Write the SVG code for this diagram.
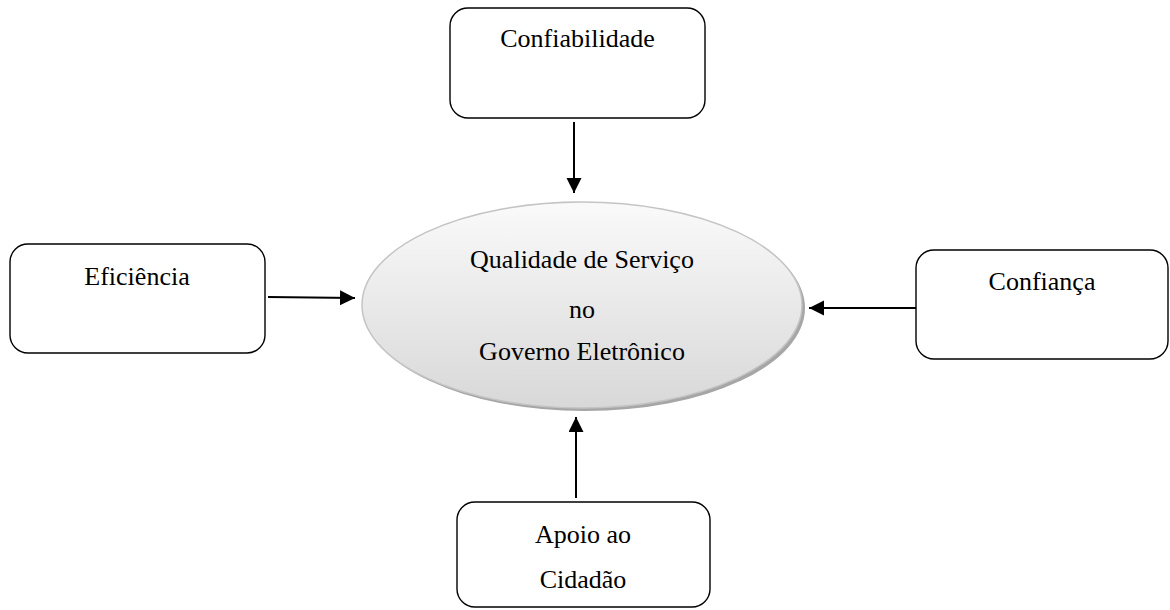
<svg xmlns="http://www.w3.org/2000/svg" width="1170" height="610" viewBox="0 0 1170 610">
<style>
.box{fill:#ffffff;stroke:#000000;stroke-width:1.4}
.lbl{font-family:"Liberation Serif","Times New Roman",serif;font-size:26px;fill:#000000;text-anchor:middle}
.conn{stroke:#000000;stroke-width:2;fill:none}
</style>
<defs>
<marker id="arr" markerUnits="userSpaceOnUse" markerWidth="16" markerHeight="16" refX="15" refY="7.5" orient="auto">
<path d="M0,0 L15,7.5 L0,15 Z" fill="#000000"/>
</marker>
<linearGradient id="ellg" x1="0" y1="0" x2="0" y2="1">
<stop offset="0" stop-color="#fafafa"/>
<stop offset="1" stop-color="#d8d8d8"/>
</linearGradient>
</defs>
<rect width="1170" height="610" fill="#ffffff"/>
<g id="center">
<ellipse cx="585" cy="308" rx="220" ry="103" fill="#a6a6a6"/>
<ellipse cx="582" cy="305" rx="220" ry="103" fill="url(#ellg)" stroke="#c4c4c4" stroke-width="1.5"/>
<text class="lbl" x="582" y="268">Qualidade de Serviço</text>
<text class="lbl" x="582" y="318">no</text>
<text class="lbl" x="582" y="360">Governo Eletrônico</text>
</g>
<g id="confiabilidade">
<rect class="box" x="450" y="8" width="255" height="110" rx="18"/>
<text class="lbl" x="577.5" y="47">Confiabilidade</text>
</g>
<g id="eficiencia">
<rect class="box" x="10" y="244" width="255" height="109" rx="18"/>
<text class="lbl" x="137" y="285">Eficiência</text>
</g>
<g id="confianca">
<rect class="box" x="916" y="250" width="252" height="109" rx="18"/>
<text class="lbl" x="1042" y="290">Confiança</text>
</g>
<g id="apoio">
<rect class="box" x="457" y="502" width="253" height="105" rx="18"/>
<text class="lbl" x="583" y="543">Apoio ao</text>
<text class="lbl" x="583" y="588">Cidadão</text>
</g>
<g id="connectors">
<line class="conn" x1="574" y1="122" x2="574" y2="193" marker-end="url(#arr)"/>
<line class="conn" x1="268" y1="297" x2="355" y2="298" marker-end="url(#arr)"/>
<line class="conn" x1="916" y1="308" x2="809" y2="308" marker-end="url(#arr)"/>
<line class="conn" x1="576" y1="498" x2="576" y2="417" marker-end="url(#arr)"/>
</g>
</svg>
